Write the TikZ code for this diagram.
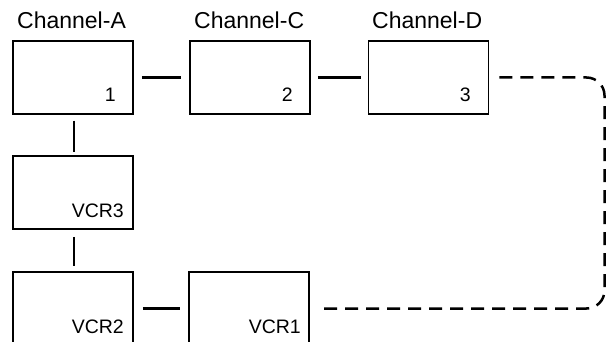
\documentclass[tikz,border=0pt]{standalone}
\usepackage{fontspec}
\setmainfont{Liberation Sans}
\begin{document}
\begin{tikzpicture}[x=1pt,y=-1pt,
  box/.style={draw=black, line width=1.5pt, minimum width=120pt, minimum height=73pt, inner sep=0pt},
  conn/.style={draw=black, line width=2.5pt},
  dashconn/.style={draw=black, line width=2.5pt, dash pattern=on 13pt off 8pt},
  lbl/.style={inner sep=0pt, font=\fontsize{19.5}{22}\selectfont},
  ttl/.style={inner sep=0pt, font=\fontsize{23}{26}\selectfont}]
\clip (0,0) rectangle (608,342);
% boxes
\node[box] (b1) at (73,77.5) {};
\node[box] (b2) at (250,77.5) {};
\node[box] (b3) at (428.5,77.5) {};
\node[box] (vcr3) at (73,192.5) {};
\node[box] (vcr2) at (73,308.5) {};
\node[box] (vcr1) at (249,308.5) {};
% titles
\node[ttl, anchor=base west] (t1) at (17,29) {Channel-A};
\node[ttl, anchor=base west] (t2) at (194,29) {Channel-C};
\node[ttl, anchor=base west] (t3) at (372,29) {Channel-D};
% inner labels
\node[lbl, anchor=base east] (l1) at (116,102) {1};
\node[lbl, anchor=base east] (l2) at (293,102) {2};
\node[lbl, anchor=base east] (l3) at (471,102) {3};
\node[lbl, anchor=base east] (l4) at (124,217) {VCR3};
\node[lbl, anchor=base east] (l5) at (124,333) {VCR2};
\node[lbl, anchor=base east] (l6) at (301,333) {VCR1};
% connectors
\draw[conn, shorten <=8pt, shorten >=8pt] (b1) -- (b2);
\draw[conn, shorten <=7pt, shorten >=7pt] (b2) -- (b3);
\draw[conn, shorten <=6pt, shorten >=3pt] ([xshift=1pt]b1.south) -- ([xshift=1pt]vcr3.north);
\draw[conn, shorten <=7pt, shorten >=5pt] ([xshift=1pt]vcr3.south) -- ([xshift=1pt]vcr2.north);
\draw[conn, shorten <=9pt, shorten >=8pt] (vcr2) -- (vcr1);
\coordinate (cR) at (604.5,0);
\draw[dashconn, rounded corners=18pt, shorten <=10pt, shorten >=8pt] (b3.east) -- (b3.east -| cR) |- (vcr1.east);
\end{tikzpicture}
\end{document}
